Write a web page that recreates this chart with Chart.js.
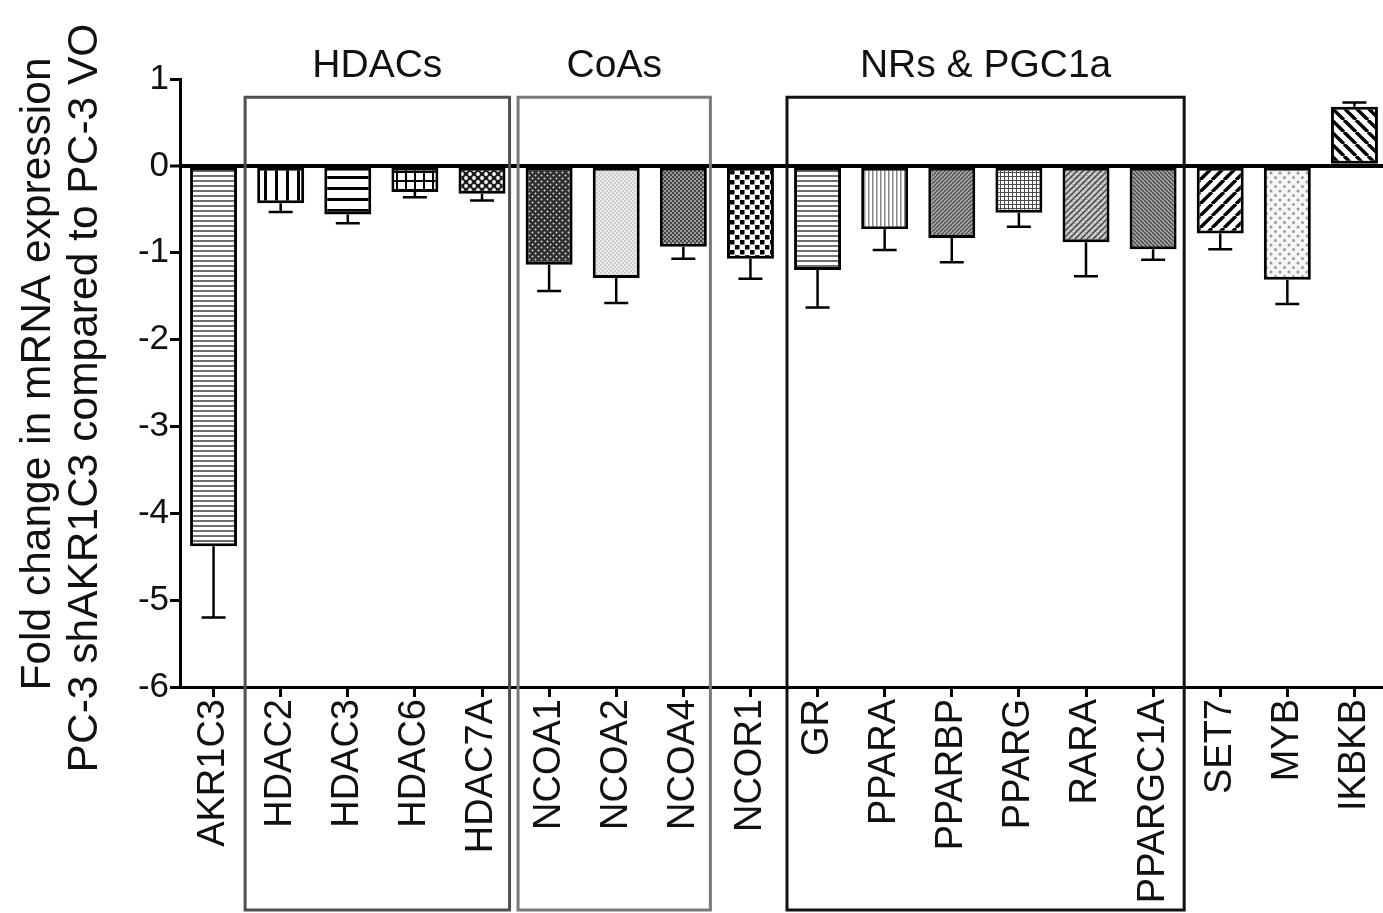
<!DOCTYPE html>
<html><head><meta charset="utf-8">
<script src="https://cdn.jsdelivr.net/npm/chart.js@4.4.0/dist/chart.umd.min.js"></script>
<style>
html,body{margin:0;padding:0;background:#fff;overflow:hidden;}
#wrap{width:1392px;height:913px;position:relative;}
</style></head><body>
<div id="wrap"><canvas id="c" width="1392" height="913"></canvas></div>
<script>
// ---------- data ----------
const categories = ['AKR1C3','HDAC2','HDAC3','HDAC6','HDAC7A','NCOA1','NCOA2','NCOA4','NCOR1','GR','PPARA','PPARBP','PPARG','RARA','PPARGC1A','SET7','MYB','IKBKB'];
const values = [-4.38,-0.43,-0.56,-0.30,-0.32,-1.14,-1.29,-0.93,-1.07,-1.20,-0.73,-0.83,-0.54,-0.88,-0.96,-0.78,-1.31,0.68];
const errors = [0.82,0.10,0.10,0.06,0.08,0.30,0.29,0.14,0.23,0.43,0.24,0.28,0.16,0.39,0.12,0.18,0.28,0.05];
const yTicks = [1,0,-1,-2,-3,-4,-5,-6];
const groupLabels = ['HDACs','CoAs','NRs & PGC1a'];
const groupFirst = [1,5,9];
const groupLast = [4,7,14];
const yTitleLines = ['Fold change in mRNA expression','PC-3 shAKR1C3 compared to PC-3 VO'];

// ---------- styles ----------
const FONT = "Arial, 'Liberation Sans', Helvetica, sans-serif";
const patternKinds = ['hfine','vwide','hwide','grid','diamond','darkdots','lightdots','finecheck','bigcheck','hfine','vfine','diagdark','finegrid','crosshatch','bdiagdark','fwide','lightdots2','bwide'];
const groupStroke = ['#505050','#7a7a7a','#111'];
const groupInsetL = [-2, 2.5, 3];
const groupInsetR = [-6, -6.5, -2.5];

function diag(g, s, dir, color, lw) {
  g.strokeStyle = color; g.lineWidth = lw; g.beginPath();
  for (let k = -1; k <= 1; k++) {
    if (dir === '/') { g.moveTo(k*s, s); g.lineTo(k*s + s, 0); }
    else { g.moveTo(k*s, 0); g.lineTo(k*s + s, s); }
  }
  g.stroke();
}
function dot(g, x, y, r, color) { g.fillStyle = color; g.beginPath(); g.arc(x, y, r, 0, Math.PI*2); g.fill(); }

function makePattern(kind) {
  const c = document.createElement('canvas');
  const sizes = {hfine:[5,5], vwide:[11,11], hwide:[11,11], grid:[9,9], diamond:[8,8], darkdots:[6,6], lightdots:[4,4],
    finecheck:[4,4], bigcheck:[10,10], vfine:[4,4], diagdark:[4,4], finegrid:[4,4], crosshatch:[6,6], bdiagdark:[4,4],
    fwide:[12,12], lightdots2:[9,9], bwide:[12,12]};
  const [w, h] = sizes[kind];
  c.width = w; c.height = h;
  const g = c.getContext('2d');
  g.fillStyle = '#fff'; g.fillRect(0, 0, w, h);
  switch (kind) {
    case 'hfine': g.fillStyle = '#6e6e6e'; g.fillRect(0, 0, w, 2); break;
    case 'vwide': g.fillStyle = '#000'; g.fillRect(0, 0, 3, h); break;
    case 'hwide': g.fillStyle = '#000'; g.fillRect(0, 0, w, 3); break;
    case 'grid': g.fillStyle = '#000'; g.fillRect(0, 0, 2, h); g.fillRect(0, 0, w, 2); break;
    case 'diamond': g.fillStyle = '#1e1e1e'; g.fillRect(0, 0, w, h); dot(g, 2, 2, 1.9, '#fff'); dot(g, 6, 6, 1.9, '#fff'); break;
    case 'darkdots': g.fillStyle = '#2e2e2e'; g.fillRect(0, 0, w, h); dot(g, 1.5, 1.5, 1.0, '#d8d8d8'); dot(g, 4.5, 4.5, 1.0, '#d8d8d8'); break;
    case 'lightdots': g.fillStyle = '#ececec'; g.fillRect(0, 0, w, h); dot(g, 1, 1, 0.8, '#a8a8a8'); dot(g, 3, 3, 0.8, '#a8a8a8'); break;
    case 'finecheck': g.fillStyle = '#9a9a9a'; g.fillRect(0, 0, w, h); g.fillStyle = '#444'; g.fillRect(0, 0, 2, 2); g.fillRect(2, 2, 2, 2); break;
    case 'bigcheck': g.fillStyle = '#000'; g.fillRect(0, 0, 4.5, 4.5); g.fillRect(5, 5, 4.5, 4.5); break;
    case 'vfine': g.fillStyle = '#8a8a8a'; g.fillRect(0, 0, 1.5, h); break;
    case 'diagdark': g.fillStyle = '#a8a8a8'; g.fillRect(0, 0, w, h); diag(g, w, '/', '#505050', 1.3); break;
    case 'finegrid': g.fillStyle = '#4a4a4a'; g.fillRect(0, 0, 1, h); g.fillRect(0, 0, w, 1); break;
    case 'crosshatch': g.fillStyle = '#cfcfcf'; g.fillRect(0, 0, w, h); diag(g, w, '\\', '#999', 0.8); diag(g, w, '/', '#505050', 1.6); break;
    case 'bdiagdark': g.fillStyle = '#a8a8a8'; g.fillRect(0, 0, w, h); diag(g, w, '\\', '#454545', 1.3); break;
    case 'fwide': diag(g, w, '/', '#000', 3.4); break;
    case 'lightdots2': g.fillStyle = '#f6f6f6'; g.fillRect(0, 0, w, h); dot(g, 2, 2, 1.5, '#9a9a9a'); dot(g, 6.5, 6.5, 1.5, '#9a9a9a'); break;
    case 'bwide': diag(g, w, '\\', '#000', 3.4); break;
  }
  return document.getElementById('c').getContext('2d').createPattern(c, 'repeat');
}
const fills = patternKinds.map(makePattern);

// ---------- plugins ----------
const errorBars = {
  id: 'errorBars',
  afterDatasetsDraw(chart) {
    const ctx = chart.ctx, ys = chart.scales.y, meta = chart.getDatasetMeta(0);
    ctx.save(); ctx.strokeStyle = '#000'; ctx.lineWidth = 2.5; ctx.lineCap = 'butt';
    meta.data.forEach((bar, i) => {
      const v = values[i], end = v + Math.sign(v) * errors[i];
      const y0 = ys.getPixelForValue(v), y1 = ys.getPixelForValue(end);
      ctx.beginPath();
      ctx.moveTo(bar.x, y0); ctx.lineTo(bar.x, y1);
      ctx.moveTo(bar.x - 12, y1); ctx.lineTo(bar.x + 12, y1);
      ctx.stroke();
    });
    ctx.restore();
  }
};
const groupBoxes = {
  id: 'groupBoxes',
  beforeDatasetsDraw(chart) {
    const ctx = chart.ctx, xs = chart.scales.x, ys = chart.scales.y;
    const half = (xs.getPixelForValue(1) - xs.getPixelForValue(0)) / 2;
    const top = ys.getPixelForValue(0.79), bottom = chart.height - 3;
    ctx.save();
    groupLabels.forEach((lab, i) => {
      const x0 = xs.getPixelForValue(groupFirst[i]) - half + groupInsetL[i];
      const x1 = xs.getPixelForValue(groupLast[i]) + half + groupInsetR[i];
      ctx.strokeStyle = groupStroke[i]; ctx.lineWidth = 3;
      ctx.strokeRect(x0, top, x1 - x0, bottom - top);
      ctx.fillStyle = '#111'; ctx.font = '39px ' + FONT; ctx.textAlign = 'center'; ctx.textBaseline = 'alphabetic';
      ctx.fillText(lab, (x0 + x1) / 2, top - 20);
    });
    ctx.restore();
  }
};
const yTitle = {
  id: 'yTitle',
  afterDraw(chart) {
    const ctx = chart.ctx;
    const pos = [[50, 374], [97, 398]];
    ctx.save(); ctx.fillStyle = '#111'; ctx.font = '42.5px ' + FONT; ctx.textAlign = 'center'; ctx.textBaseline = 'alphabetic';
    yTitleLines.forEach((t, i) => {
      ctx.save(); ctx.translate(pos[i][0], pos[i][1]); ctx.rotate(-Math.PI / 2); ctx.fillText(t, 0, 0); ctx.restore();
    });
    ctx.restore();
  }
};

// ---------- chart ----------
new Chart(document.getElementById('c'), {
  type: 'bar',
  data: {
    labels: categories,
    datasets: [{
      data: values,
      backgroundColor: fills,
      borderColor: '#000',
      borderWidth: 3,
      borderSkipped: false,
      barPercentage: 0.70,
      categoryPercentage: 1.0
    }]
  },
  options: {
    responsive: false,
    animation: false,
    devicePixelRatio: 1,
    layout: { padding: { top: 79, right: 4, bottom: 0, left: 0 } },
    plugins: { legend: { display: false }, tooltip: { enabled: false } },
    scales: {
      x: {
        type: 'category',
        offset: true,
        grid: { offset: false, drawOnChartArea: false, drawTicks: true, tickLength: 10, tickColor: '#000', tickWidth: 3, color: '#000' },
        border: { display: true, color: '#000', width: 3 },
        ticks: { autoSkip: false, minRotation: 90, maxRotation: 90, padding: 2, color: '#111', font: { family: FONT, size: 38 } },
        afterFit(s) { s.height = 226; s.paddingLeft = 0; s.paddingRight = 0; }
      },
      y: {
        min: -6, max: 1,
        afterBuildTicks(s) { s.ticks = yTicks.map(v => ({ value: v })); },
        grid: {
          drawOnChartArea: true, drawTicks: true, tickLength: 10, tickColor: '#000', tickWidth: 3,
          color: c => (c.tick && c.tick.value === 0) ? '#000' : 'rgba(0,0,0,0)',
          lineWidth: c => (c.tick && c.tick.value === 0) ? 4 : 1
        },
        border: { display: true, color: '#000', width: 3 },
        ticks: { padding: 1, color: '#111', font: { family: FONT, size: 35 }, callback: v => String(v) },
        afterFit(s) { s.width = 180; }
      }
    }
  },
  plugins: [groupBoxes, errorBars, yTitle]
});
</script>
</body></html>
